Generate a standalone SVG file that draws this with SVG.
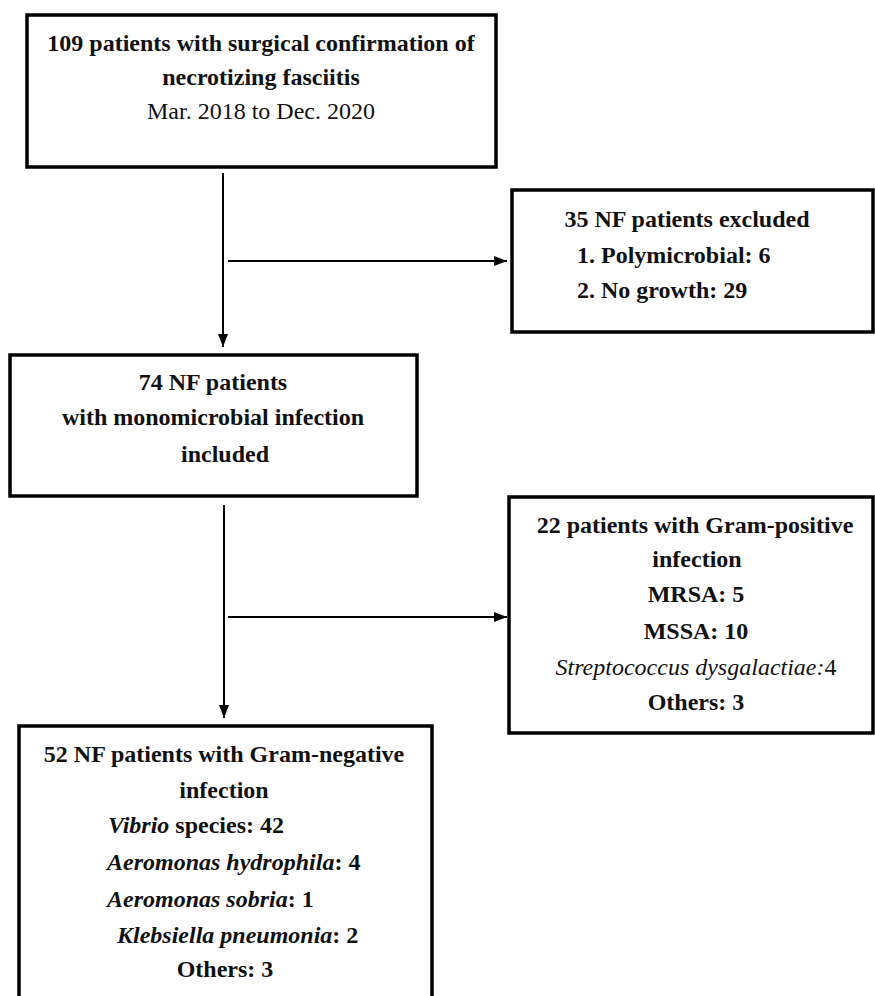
<svg xmlns="http://www.w3.org/2000/svg" width="875" height="996" viewBox="0 0 875 996">
<style>
.box{fill:#fff;stroke:#000;stroke-width:3.5}
.t{font-size:24px;font-weight:bold;fill:#111}
.c{text-anchor:middle}
.r{font-weight:normal}
.i{font-style:italic}
.ir{font-style:italic;font-weight:normal}
.conn{stroke:#000;stroke-width:2;fill:none}
</style>
<defs>
<marker id="ah" markerUnits="userSpaceOnUse" markerWidth="14" markerHeight="12" refX="13" refY="6" orient="auto">
<path d="M0,1 L13,6 L0,11 Z" fill="#000"/>
</marker>
</defs>
<rect width="875" height="996" fill="#fff"/>
<g id="connectors">
<line class="conn" x1="223" y1="173" x2="223" y2="347" marker-end="url(#ah)"/>
<line class="conn" x1="228" y1="261" x2="507" y2="261" marker-end="url(#ah)"/>
<line class="conn" x1="224" y1="505" x2="224" y2="718" marker-end="url(#ah)"/>
<line class="conn" x1="228" y1="617" x2="507" y2="617" marker-end="url(#ah)"/>
</g>
<g font-family="'Liberation Serif', 'DejaVu Serif', serif">
<g id="n1">
<rect class="box" x="27" y="15" width="469" height="152"/>
<text class="t c" x="261" y="51">109 patients with surgical confirmation of</text>
<text class="t c" x="261" y="85">necrotizing fasciitis</text>
<text class="t c r" x="261" y="119">Mar. 2018 to Dec. 2020</text>
</g>
<g id="n2">
<rect class="box" x="512" y="190" width="361" height="142"/>
<text class="t c" x="687" y="227">35 NF patients excluded</text>
<text class="t" x="577" y="263">1. Polymicrobial: 6</text>
<text class="t" x="577" y="298">2. No growth: 29</text>
</g>
<g id="n3">
<rect class="box" x="10" y="355" width="407" height="141"/>
<text class="t c" x="213" y="390">74 NF patients</text>
<text class="t c" x="213" y="425">with monomicrobial infection</text>
<text class="t c" x="225" y="462">included</text>
</g>
<g id="n4">
<rect class="box" x="509" y="497" width="364" height="236"/>
<text class="t c" x="695" y="533">22 patients with Gram-positive</text>
<text class="t c" x="697" y="567">infection</text>
<text class="t c" x="696" y="602">MRSA: 5</text>
<text class="t c" x="696" y="639">MSSA: 10</text>
<text class="t c" x="696" y="675"><tspan class="ir">Streptococcus dysgalactiae:</tspan><tspan class="r">4</tspan></text>
<text class="t c" x="696" y="710">Others: 3</text>
</g>
<g id="n5">
<rect class="box" x="19" y="726" width="413" height="280"/>
<text class="t c" x="224" y="762">52 NF patients with Gram-negative</text>
<text class="t c" x="224" y="798">infection</text>
<text class="t" x="108" y="833"><tspan class="i">Vibrio</tspan> species: 42</text>
<text class="t" x="107" y="870"><tspan class="i">Aeromonas hydrophila</tspan>: 4</text>
<text class="t" x="107" y="907"><tspan class="i">Aeromonas sobria</tspan>: 1</text>
<text class="t" x="117" y="943"><tspan class="i">Klebsiella pneumonia</tspan>: 2</text>
<text class="t c" x="225" y="977">Others: 3</text>
</g>
</g>
</svg>
